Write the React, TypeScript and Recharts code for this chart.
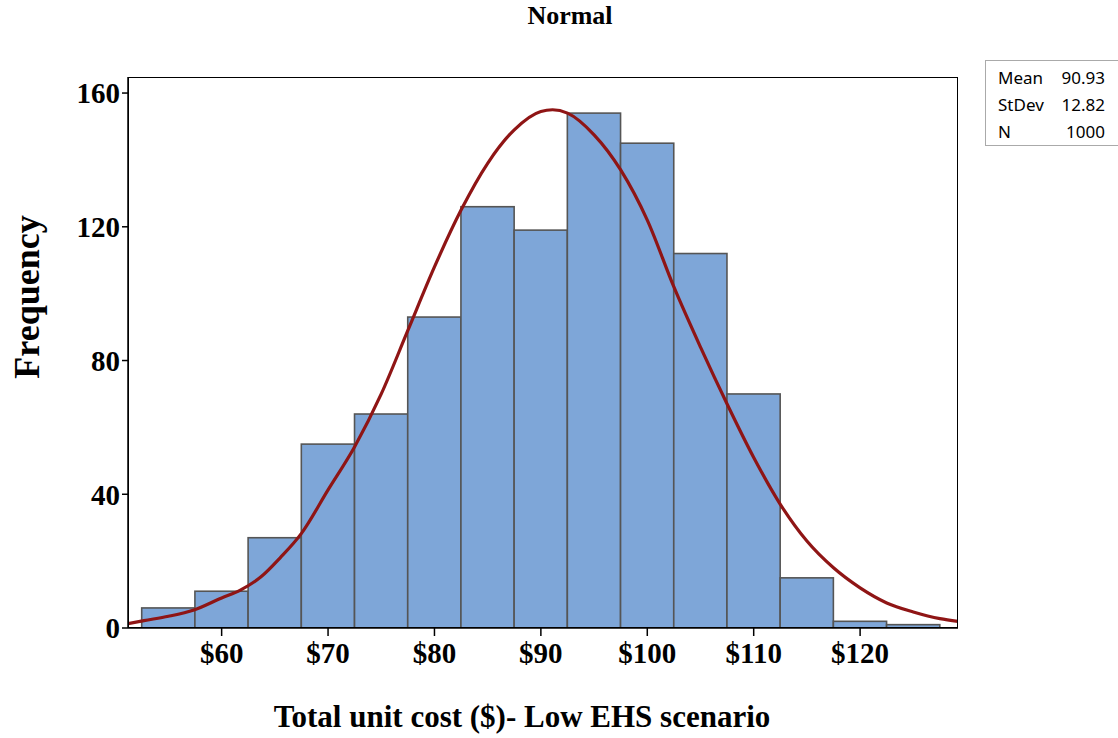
import { Bar, ComposedChart, Line, XAxis, YAxis } from "recharts";

// histogram bins (bin centres, width 5)
const binCenters = [55, 60, 65, 70, 75, 80, 85, 90, 95, 100, 105, 110, 115, 120, 125];
const binCounts = [6, 11, 27, 55, 64, 93, 126, 119, 154, 145, 112, 70, 15, 2, 1];

// fitted normal curve
const fitX = [51.2, 52.7, 55, 57.4, 60, 61.8, 63.7, 65.5, 67.5, 70, 72.5, 75, 77.5, 80, 82.5, 85, 87.5, 90, 91.1, 92.5, 95, 97.5, 100, 102.5, 105, 107.5, 110, 112.5, 115, 117.5, 120, 122.5, 125, 127.5, 129.2];
const fitY = [1.3, 2.2, 3.5, 5.4, 9, 11.4, 15.3, 21, 28.3, 41.3, 54.2, 70, 89, 108, 125, 139, 149, 154.5, 155, 154, 147.5, 137, 122, 102, 84, 67, 51, 37, 26, 18, 12, 7.5, 4.8, 2.8, 2];

const xTicks = [60, 70, 80, 90, 100, 110, 120];
const yTicks = [0, 40, 80, 120, 160];
const statLabels = ["Mean", "StDev", "N"];
const statValues = ["90.93", "12.82", "1000"];

const X_MIN = 51.2;
const X_MAX = 129.2;
const BIN_WIDTH = 5;

const W = 1118;
const H = 738;
const PLOT_LEFT = 128;
const PLOT_RIGHT = 958;
const PLOT_TOP = 77;
const PLOT_BOTTOM = 628;

const serif = "'Liberation Serif', 'Times New Roman', serif";

export default function App() {
  const bins = binCenters.map((x, i) => ({ x, count: binCounts[i] }));
  const fit = fitX.map((x, i) => ({ x, fit: fitY[i] }));
  const plotW = PLOT_RIGHT - PLOT_LEFT;
  const binPx = (BIN_WIDTH * plotW) / (X_MAX - X_MIN);
  const yAxisW = 60;
  const xAxisH = H - PLOT_BOTTOM;

  // full-width histogram bar centred on the bin's x position
  const HistBar = (props: any) => {
    const { x, y, width, height } = props;
    if (!height || height <= 0) return <g />;
    const cx = x + width / 2;
    return (
      <rect
        x={cx - binPx / 2}
        y={y}
        width={binPx}
        height={height}
        fill="#7ea6d8"
        stroke="#555"
        strokeWidth={1.6}
      />
    );
  };

  return (
    <div style={{ position: "absolute", left: 0, top: 0, width: W, height: H, background: "#fff" }}>
      <div
        style={{
          position: "absolute",
          left: 11,
          width: W,
          top: 1,
          textAlign: "center",
          fontFamily: serif,
          fontWeight: "bold",
          fontSize: 26
        }}
      >
        Normal
      </div>
      <ComposedChart
        width={W}
        height={H}
        data={bins}
        margin={{ top: PLOT_TOP, left: PLOT_LEFT - yAxisW, right: W - PLOT_RIGHT, bottom: 0 }}
      >
        <XAxis
          dataKey="x"
          type="number"
          domain={[X_MIN, X_MAX]}
          ticks={xTicks}
          allowDataOverflow
          height={xAxisH}
          tickFormatter={(v) => `$${v}`}
          tick={{ fill: "#000", fontSize: 29, fontWeight: "bold", fontFamily: serif, dy: 4 }}
          tickSize={8}
          tickLine={{ stroke: "#000", strokeWidth: 1.5 }}
          axisLine={{ stroke: "#000", strokeWidth: 1.5 }}
          label={{
            value: "Total unit cost ($)- Low EHS scenario",
            position: "insideBottom",
            offset: 11,
            fill: "#000",
            fontSize: 31,
            fontWeight: "bold",
            fontFamily: serif,
            dx: -21
          }}
        />
        <YAxis
          type="number"
          domain={[0, 164.8]}
          ticks={yTicks}
          allowDataOverflow
          width={yAxisW}
          tick={{ fill: "#000", fontSize: 29, fontWeight: "bold", fontFamily: serif }}
          tickSize={6}
          tickLine={{ stroke: "#000", strokeWidth: 1.5 }}
          axisLine={{ stroke: "#000", strokeWidth: 1.5 }}
        />
        <Bar dataKey="count" shape={HistBar} isAnimationActive={false} />
        <Line
          data={fit}
          dataKey="fit"
          type="monotone"
          stroke="#8f1515"
          strokeWidth={3.2}
          dot={false}
          isAnimationActive={false}
        />
      </ComposedChart>
      <div
        style={{
          position: "absolute",
          left: PLOT_LEFT,
          top: PLOT_TOP,
          width: plotW,
          height: PLOT_BOTTOM - PLOT_TOP,
          border: "1.5px solid #000",
          boxSizing: "border-box",
          pointerEvents: "none"
        }}
      />
      <div
        style={{
          position: "absolute",
          left: 27,
          top: 297,
          transform: "translate(-50%, -50%) rotate(-90deg)",
          fontFamily: serif,
          fontWeight: "bold",
          fontSize: 36,
          whiteSpace: "nowrap"
        }}
      >
        Frequency
      </div>
      <div
        style={{
          position: "absolute",
          left: 985,
          top: 60,
          width: 140,
          height: 86,
          border: "1.5px solid #aaa",
          boxSizing: "border-box",
          fontFamily: "'Noto Sans', 'Open Sans', sans-serif",
          fontSize: 17,
          padding: "3px 0 0 12px"
        }}
      >
        {statLabels.map((l, i) => (
          <div
            key={l}
            style={{ display: "flex", justifyContent: "space-between", lineHeight: "27px", width: 107 }}
          >
            <span>{l}</span>
            <span>{statValues[i]}</span>
          </div>
        ))}
      </div>
    </div>
  );
}
